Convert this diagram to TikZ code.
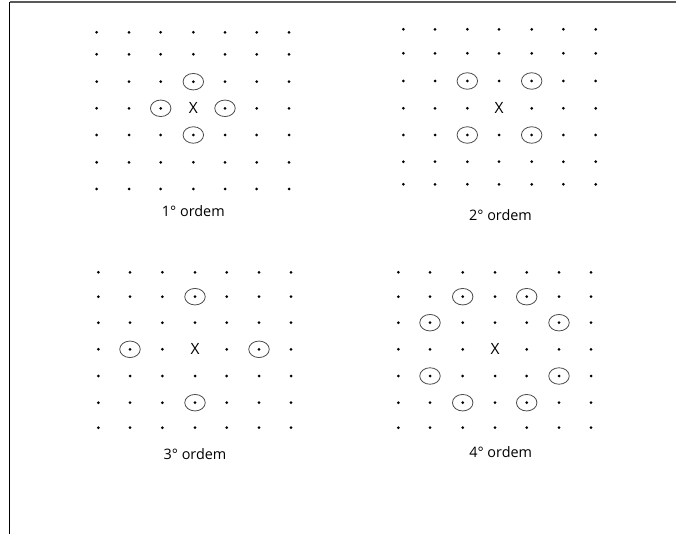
\documentclass[tikz,border=0pt]{standalone}
\usepackage{fontspec}
\setmainfont{Open Sans}
\usetikzlibrary{shapes.geometric}
\newcommand\dotgrid[3]{%
  \foreach \xx [count=\i] in {#2} {
    \foreach \yy [count=\j] in {#3} {
      \pgfmathtruncatemacro\ctr{and(\i==4,\j==4)}
      \ifnum\ctr=0
        \node[dot] (#1-\i-\j) at (\xx,\yy) {};
      \else
        \node[cross] (#1-\i-\j) at (\xx,\yy) {X};
      \fi
    }
  }%
}
\begin{document}
\begin{tikzpicture}[x=1pt,y=-1pt,
  dot/.style={circle,fill=black,inner sep=0pt,minimum size=3pt},
  ring/.style={ellipse,draw=black!70,line width=0.8pt,minimum width=20.5pt,minimum height=16.5pt,inner sep=0pt},
  cross/.style={inner sep=0pt,font=\fontsize{15.5}{17}\selectfont},
  lbl/.style={inner sep=0pt,font=\fontsize{14.4}{16}\selectfont},
  frametop/.style={draw=black!65,line width=2pt},
  frameleft/.style={draw=black,line width=1.3pt}]
\useasboundingbox (0,0) rectangle (676,534);
\fill[white] (0,0) rectangle (676,534);
% frame
\coordinate (tl) at (9.5,2.5);
\coordinate (tr) at (676,2.5);
\coordinate (bl) at (9.5,534);
\draw[frametop] (tl) -- (tr);
\draw[frameleft] (tl) -- (bl);
% grids
\dotgrid{ga}{96.7,129,160.7,193.3,225,256.7,289}{32.3,54.3,81.7,108.3,135,162.3,189}
\dotgrid{gb}{403.3,435,467.3,499,531.7,563.3,595.7}{29.3,53.3,81,108.3,135,161.7,184.3}
\dotgrid{gc}{98.3,130,162.3,195,226.7,259,291}{272.3,296.7,322.7,349.3,376,402.7,427.7}
\dotgrid{gd}{398.3,430,462.7,495,526.7,559,591}{272.3,296.7,322.7,349.3,376,402.7,427.7}
% rings, 1st order
\node[ring] (ra1) at (ga-4-3) {};
\node[ring] (ra2) at (ga-3-4) {};
\node[ring] (ra3) at (ga-5-4) {};
\node[ring] (ra4) at (ga-4-5) {};
% rings, 2nd order
\node[ring] (rb1) at (gb-3-3) {};
\node[ring] (rb2) at (gb-5-3) {};
\node[ring] (rb3) at (gb-3-5) {};
\node[ring] (rb4) at (gb-5-5) {};
% rings, 3rd order
\node[ring] (rc1) at (gc-4-2) {};
\node[ring] (rc2) at (gc-2-4) {};
\node[ring] (rc3) at (gc-6-4) {};
\node[ring] (rc4) at (gc-4-6) {};
% rings, 4th order
\node[ring] (rd1) at (gd-3-2) {};
\node[ring] (rd2) at (gd-5-2) {};
\node[ring] (rd3) at (gd-2-3) {};
\node[ring] (rd4) at (gd-6-3) {};
\node[ring] (rd5) at (gd-2-5) {};
\node[ring] (rd6) at (gd-6-5) {};
\node[ring] (rd7) at (gd-3-6) {};
\node[ring] (rd8) at (gd-5-6) {};
% labels
\node[lbl] (la) at (193.3,211) {1° ordem};
\node[lbl] (lb) at (500.5,215) {2° ordem};
\node[lbl] (lc) at (195,454) {3° ordem};
\node[lbl] (ld) at (500.7,452) {4° ordem};
\end{tikzpicture}
\end{document}
